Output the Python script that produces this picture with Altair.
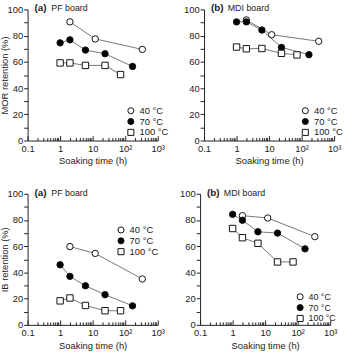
import altair as alt
import pandas as pd

temps = ["40 °C", "70 °C", "100 °C"]
times_40 = [2, 12, 336]
times_70 = [1, 2, 6, 24, 168]
times_100 = [1, 2, 6, 24, 72]

mor_pf_40 = [90.5, 77.5, 69.5]
mor_pf_70 = [74.5, 76.8, 69.0, 66.2, 56.5]
mor_pf_100 = [59.2, 59.2, 57.3, 57.3, 50.3]

mor_mdi_40 = [92.0, 80.7, 75.7]
mor_mdi_70 = [90.5, 90.5, 84.3, 71.0, 65.5]
mor_mdi_100 = [71.3, 70.0, 70.2, 66.5, 65.3]

ib_pf_40 = [59.7, 54.5, 35.0]
ib_pf_70 = [45.8, 37.0, 29.8, 23.0, 14.5]
ib_pf_100 = [18.3, 20.5, 14.8, 10.8, 10.8]

ib_mdi_40 = [83.3, 81.5, 67.3]
ib_mdi_70 = [84.3, 79.8, 71.0, 70.0, 58.0]
ib_mdi_100 = [73.5, 66.5, 62.2, 48.0, 48.0]

x_major = [0.1, 1, 10, 100, 1000]
x_major_labels = ["0.1", "1", "10", "10²", "10³"]
x_minor = [0.2, 0.3, 0.4, 0.5, 0.6, 0.7, 0.8, 0.9,
           2, 3, 4, 5, 6, 7, 8, 9,
           20, 30, 40, 50, 60, 70, 80, 90,
           200, 300, 400, 500, 600, 700, 800, 900]
y_ticks = [0, 10, 20, 30, 40, 50, 60, 70, 80, 90, 100]

FONT = "Liberation Sans"
W, H = 132, 133


def frame(v40, v70, v100):
    rows = []
    for t, xs, ys in zip(temps, [times_40, times_70, times_100], [v40, v70, v100]):
        for x, y in zip(xs, ys):
            rows.append({"temp": t, "time": x, "ret": y})
    return pd.DataFrame(rows)


label_expr = " : ".join(
    [f"datum.value == {v} ? '{l}'" for v, l in zip(x_major, x_major_labels)]
) + " : ''"


def panel(df, tag, name, ytitle, lx, ly, legfont=9.5):
    xscale = alt.Scale(type="log", domain=[0.1, 1000], nice=False)
    yscale = alt.Scale(domain=[0, 100], nice=False, zero=True)
    ykw = dict(
        values=y_ticks,
        labelExpr="datum.value % 20 == 0 ? datum.label : ''",
        tickSize=4, tickColor="#222", domainColor="#222",
        labelFontSize=9.5, labelColor="#222", labelPadding=1,
        grid=False, titleFontSize=9.5, titleFontWeight="normal",
        titleColor="#222", title=ytitle,
    )
    if ytitle:
        ykw["titleX"] = -18
    yaxis = alt.Axis(**ykw)
    xaxis_bottom = alt.Axis(
        values=x_major, labelExpr=label_expr, ticks=False, domain=True,
        domainColor="#222", labelFlush=False, labelOverlap=False,
        labelFontSize=9.5, labelColor="#222", labelPadding=3,
        title="Soaking time (h)", titleFontSize=9.5, titleFontWeight="normal",
        titleColor="#222", titlePadding=3, grid=False,
    )
    xaxis_ticks = alt.Axis(
        orient="top", offset=-H, values=x_major + x_minor, labels=False,
        domain=False, ticks=True, tickColor="#222", grid=False, title=None,
        tickSize={"condition": {"test": "abs(log(datum.value)/LN10 - round(log(datum.value)/LN10)) < 0.000001", "value": 5}, "value": 3},
    )
    leg = alt.Legend(
        title=None, orient="none", legendX=lx, legendY=ly,
        symbolStrokeWidth=1, symbolSize=38,
        labelFontSize=legfont, labelColor="#222", rowPadding=0, labelOffset=4,
        padding=0,
    )
    base = alt.Chart(df)
    lines = base.mark_line(color="#777", strokeWidth=1).encode(
        x=alt.X("time:Q", scale=xscale, axis=xaxis_bottom),
        y=alt.Y("ret:Q", scale=yscale, axis=yaxis),
        detail="temp:N",
    )
    points = base.mark_point(filled=True, strokeWidth=1, size=42, opacity=1).encode(
        x=alt.X("time:Q", scale=xscale, axis=xaxis_ticks),
        y=alt.Y("ret:Q", scale=yscale, axis=yaxis),
        shape=alt.Shape("temp:N", scale=alt.Scale(domain=temps, range=["circle", "circle", "square"]), legend=leg),
        fill=alt.Fill("temp:N", scale=alt.Scale(domain=temps, range=["white", "black", "white"]), legend=leg),
        stroke=alt.Stroke("temp:N", scale=alt.Scale(domain=temps, range=["#111", "#111", "#111"]), legend=leg),
    )
    tagdf = pd.DataFrame({"tag": [tag], "name": [name]})
    t1 = alt.Chart(tagdf).mark_text(align="left", baseline="middle", fontSize=10, fontWeight="bold", color="#222").encode(
        text="tag:N", x=alt.value(7), y=alt.value(-1))
    t2 = alt.Chart(tagdf).mark_text(align="left", baseline="middle", fontSize=9, color="#222").encode(
        text="name:N", x=alt.value(24), y=alt.value(-1))
    return alt.layer(lines, points, t1, t2).resolve_axis(x="independent").properties(width=W, height=H)


p1 = panel(frame(mor_pf_40, mor_pf_70, mor_pf_100), "(a)", "PF board", "MOR retention (%)", 100, 98)
p2 = panel(frame(mor_mdi_40, mor_mdi_70, mor_mdi_100), "(b)", "MDI board", None, 98, 98)
p3 = panel(frame(ib_pf_40, ib_pf_70, ib_pf_100), "(a)", "PF board", "IB retention (%)", 90, 32)
p4 = panel(frame(ib_mdi_40, ib_mdi_70, ib_mdi_100), "(b)", "MDI board", None, 97, 100, legfont=9)

top = alt.hconcat(p1, p2, spacing=15).resolve_legend(shape="independent", fill="independent", stroke="independent")
bottom = alt.hconcat(p3, p4, spacing=15).resolve_legend(shape="independent", fill="independent", stroke="independent")
chart = alt.vconcat(top, bottom, spacing=23).resolve_legend(
    shape="independent", fill="independent", stroke="independent"
).properties(padding={"left": 0, "top": 1, "right": 2, "bottom": 2}).configure(
    font=FONT
).configure_view(stroke=None)

chart.save("out.html", embed_options={"renderer": "svg", "actions": False})
